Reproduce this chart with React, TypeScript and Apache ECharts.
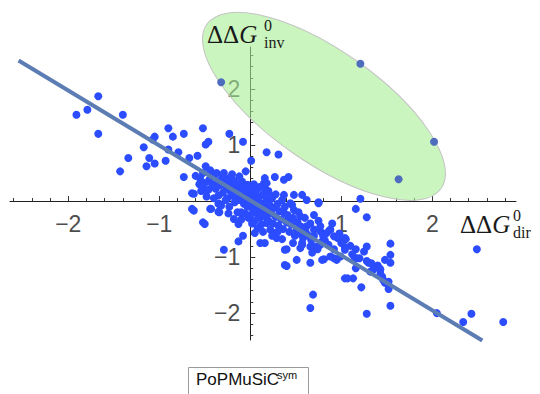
import React, { useEffect, useRef } from "react";
import * as echarts from "echarts";

// ΔΔG_dir (x) vs ΔΔG_inv (y) for mutations outside the highlighted region
const mutationPoints: [number, number][] = [
  [-1.91, 1.54], [-1.79, 1.63], [-1.67, 1.87], [-1.67, 1.2], [-1.4, 1.54], [-1.43, 0.53],
  [-1.34, 0.77], [-1.17, 0.96], [-1.11, 0.77], [-1.14, 0.62], [-1.05, 0.67], [-1.05, 1.15],
  [-1.07, 1.1], [-0.93, 0.72], [-0.9, 1.3], [-0.85, 1.15], [-0.9, 0.92], [-0.79, 0.87],
  [-0.73, 1.2], [-0.73, 0.43], [-0.67, 0.77], [-0.58, 0.81], [-0.52, 1.3], [-0.49, 1.01],
  [-0.46, 1.06], [-0.64, 0.14], [-0.64, -0.14], [-0.49, 0.62], [-0.6, 0.45], [-0.55, 0.4],
  [-0.52, 0.5], [-0.44, -0.14], [-0.35, -0.05], [-0.35, -0.19], [-0.23, 1.2], [-0.08, 1.06],
  [0.01, 0.72], [-0.05, 0.53], [0.18, 0.87], [0.31, 0.83], [-0.03, 0.29], [-0.51, 0.2],
  [0.27, 0.43], [0.37, 0.38], [0.42, 0.43], [0.15, 0.32], [0.16, 0.23], [0.37, 0.11],
  [0.48, 0.11], [0.57, 0.11], [0.62, 0.02], [0.75, -0.04], [0.44, -0.04], [1.21, 0.04],
  [0.16, 0.41], [0.09, 0.23], [0.18, 0.32],
  [1.16, -0.14], [1.28, -0.29], [2.49, -0.86], [1.54, -0.76], [1.54, -0.96], [1.54, -1.1],
  [1.48, -1.05], [1.16, -0.86], [1.25, -0.9], [1.04, -0.66], [1.04, -0.82], [1.04, -0.87],
  [0.92, -0.86], [0.96, -0.66], [0.87, -0.52], [0.81, -1.04], [0.66, -1.1], [0.51, -1.05],
  [0.4, -0.86], [0.4, -1.16], [0.69, -1.67], [0.66, -1.91], [1.04, -1.38], [1.13, -1.38],
  [1.22, -1.54], [1.28, -2.01], [1.54, -1.87], [1.48, -1.46], [2.05, -2.0], [2.34, -2.16],
  [2.43, -2.01], [2.78, -2.16], [1.17, -1.02], [1.3, -1.1], [1.36, -1.18], [1.43, -1.22],
  [1.4, -1.15], [1.45, -1.35], [1.46, -1.41], [1.32, -1.26], [0.95, -1.05], [0.92, -1.02],
  [0.77, -0.78], [0.79, -0.72], [0.55, -0.84], [0.57, -0.78], [0.66, -0.81], [1.05, -0.68],
  [1.28, -0.81], [1.15, -1.02], [1.16, -1.2], [1.28, -1.07], [1.33, -1.11], [1.35, -1.23],
  [1.42, -1.2], [1.43, -1.3], [1.52, -1.44], [1.52, -1.57], [0.57, -0.75], [0.71, -0.81],
  [0.79, -1.05], [0.88, -0.99], [0.99, -0.99], [1.07, -1.38], [0.46, -0.07], [0.55, -0.27],
  [0.62, -0.45], [0.7, -0.51], [0.77, -0.54], [0.84, -0.57], [0.88, -0.51], [0.92, -0.63],
  [0.51, -0.51], [0.59, -0.54], [0.75, -0.35], [0.77, -0.45], [0.42, -0.33], [0.37, -0.21],
  [0.48, -0.16], [0.75, -0.02], [0.15, -0.21], [0.18, -0.39], [0.22, -0.51], [0.27, -0.57],
  [0.29, -0.66], [0.16, -0.75], [0.38, -0.87], [0.38, -1.14], [0.05, -0.57], [0.11, -0.75],
  [-0.52, -0.38], [-0.43, -0.14], [-0.34, -0.2], [-0.34, -0.05], [-0.13, -0.41], [-0.1, -0.33],
  [-0.08, -0.62], [-0.13, -0.72], [-0.29, -0.87], [-0.62, -0.17], [-0.5, -0.41], [-0.62, 0.13],
  [-0.45, 0.38], [-0.42, 0.3], [-0.4, 0.45], [-0.38, 0.22], [-0.36, 0.35], [-0.33, 0.28],
  [-0.31, 0.42], [-0.3, 0.15], [-0.28, 0.33], [-0.26, 0.24], [-0.25, 0.05], [-0.24, 0.4],
  [-0.22, 0.18], [-0.21, 0.3], [-0.2, 0.1], [-0.19, 0.25], [-0.18, 0.36], [-0.16, 0.05],
  [-0.15, 0.2], [-0.14, 0.14], [-0.13, 0.3], [-0.12, 0.02], [-0.11, 0.22], [-0.1, 0.1],
  [-0.09, 0.35], [-0.08, 0.18], [-0.07, -0.05], [-0.06, 0.06], [-0.05, 0.26], [-0.04, 0.12],
  [-0.03, -0.1], [-0.02, 0.02], [-0.01, 0.16], [0.0, 0.08], [0.01, -0.05], [0.02, 0.2],
  [0.03, -0.15], [0.04, 0.04], [0.05, 0.12], [0.06, -0.08], [0.07, -0.22], [0.08, 0.02],
  [0.09, -0.12], [0.1, 0.08], [0.11, -0.3], [0.12, -0.04], [0.13, -0.18], [0.14, 0.12],
  [0.15, -0.1], [0.17, -0.28], [0.18, 0.02], [0.19, -0.16], [0.2, -0.35], [0.21, -0.06],
  [0.23, -0.22], [0.24, 0.05], [0.25, -0.4], [0.26, -0.12], [0.28, -0.28], [0.3, -0.05],
  [0.31, -0.44], [0.32, -0.18], [0.34, -0.33], [0.35, 0.02], [0.36, -0.5], [0.38, -0.1],
  [0.4, -0.38], [0.41, -0.25], [0.43, -0.55], [0.45, -0.42], [0.47, -0.3], [0.49, -0.62],
  [0.52, -0.38], [0.54, -0.58], [0.56, -0.46], [0.58, -0.66], [0.61, -0.55], [0.64, -0.62],
  [0.67, -0.7], [0.7, -0.62], [-0.48, 0.08], [-0.46, 0.2], [-0.44, 0.55], [-0.4, 0.05],
  [-0.37, 0.5], [-0.35, 0.1], [-0.32, -0.08], [-0.29, 0.5], [-0.27, 0.02], [-0.23, -0.1],
  [-0.2, 0.48], [-0.17, -0.02], [-0.14, -0.2], [-0.12, 0.44], [-0.06, -0.22], [-0.02, -0.3],
  [0.02, -0.4], [0.04, 0.3], [0.08, -0.48], [0.1, 0.25], [0.14, -0.55], [0.06, 0.18],
  [-0.56, 0.3], [-0.54, 0.18], [-0.5, 0.32], [-0.24, -0.22], [-0.18, -0.32], [-0.1, -0.2],
  [0.0, -0.25], [0.05, -0.35], [0.12, -0.42], [0.22, 0.1], [0.28, 0.12], [0.2, 0.18],
  [0.3, -0.55], [0.24, -0.62], [0.47, -0.75], [0.35, -0.68], [0.6, -0.3], [0.66, -0.4],
  [0.53, -0.2], [0.7, -0.25], [0.8, -0.62], [0.82, -0.7], [0.86, -0.78], [0.74, -0.86],
  [0.68, -0.92], [0.9, -0.4], [0.98, -0.58], [1.0, -0.75], [1.1, -0.8], [1.12, -0.95],
  [1.2, -1.02],
];

// mutations inside the highlighted (green) region
const outlierPoints: [number, number][] = [
  [-0.32, 2.12], [1.21, 2.45], [2.02, 1.06], [1.63, 0.39],
];

// fitted line end points
const fitLine: [number, number][] = [[-2.546, 2.51], [2.55, -2.49]];

// highlighted region centre (data units)
const regionCenter: [number, number][] = [[0.81, 1.69]];

const xTickLabels = [-2, -1, 1, 2];
const yTickLabels = [-2, -1, 1, 2];
const xMinorTicks = [-2.6, -2.4, -2.2, -1.8, -1.6, -1.4, -1.2, -0.8, -0.6, -0.4, -0.2, 0.2, 0.4, 0.6, 0.8, 1.2, 1.4, 1.6, 1.8, 2.2, 2.4, 2.6, 2.8];
const yMinorTicks = [-2.4, -2.2, -1.8, -1.6, -1.4, -1.2, -0.8, -0.6, -0.4, -0.2, 0.2, 0.4, 0.6, 0.8, 1.2, 1.4, 1.6, 1.8, 2.2, 2.4, 2.6];

const SANS = '"Liberation Sans", Arial, Helvetica, sans-serif';
const SERIF = '"Liberation Serif", "Times New Roman", Times, serif';

const fmt = (v: number) => (v < 0 ? "\u2212" + Math.abs(v) : String(v));

export default function App() {
  const ref = useRef<HTMLDivElement>(null);
  useEffect(() => {
    document.body.style.margin = "0";
    const chart = echarts.init(ref.current!, null, { renderer: "svg" });
    const X_MIN = -2.64, X_MAX = 2.92, Y_MIN = -2.48, Y_MAX = 2.75;
    const G_LEFT = 10, G_TOP = 47, G_W = 506, G_H = 293;
    // shift axes from the grid edges onto the origin
    const xAxisOffset = -(G_H * (0 - Y_MIN)) / (Y_MAX - Y_MIN);
    const yAxisOffset = -(G_W * (0 - X_MIN)) / (X_MAX - X_MIN);
    const tickStyle = { color: "#333", width: 1 };
    const baseX = { type: "value", min: X_MIN, max: X_MAX, position: "bottom", offset: xAxisOffset, splitLine: { show: false } };
    const baseY = { type: "value", min: Y_MIN, max: Y_MAX, position: "left", offset: yAxisOffset, splitLine: { show: false } };
    chart.setOption({
      animation: false,
      backgroundColor: "#ffffff",
      grid: { left: G_LEFT, top: G_TOP, width: G_W, height: G_H, containLabel: false, outerBoundsMode: "none" },
      xAxis: [
        {
          ...baseX,
          axisLine: { show: true, onZero: false, lineStyle: { color: "#222", width: 1 } },
          axisTick: { show: true, inside: true, length: 5, customValues: xTickLabels, lineStyle: tickStyle },
          axisLabel: { customValues: xTickLabels, formatter: fmt, fontSize: 23, color: "#4d4d4d", margin: 11, fontFamily: SANS },
        },
        {
          ...baseX,
          axisLine: { show: false, onZero: false },
          axisTick: { show: true, inside: true, length: 3, customValues: xMinorTicks, lineStyle: tickStyle },
          axisLabel: { show: false },
        },
      ],
      yAxis: [
        {
          ...baseY,
          axisLine: { show: true, onZero: false, lineStyle: { color: "#222", width: 1 } },
          axisTick: { show: true, inside: true, length: 5, customValues: yTickLabels, lineStyle: tickStyle },
          axisLabel: { customValues: yTickLabels, formatter: fmt, fontSize: 23, color: "#4d4d4d", margin: 10, fontFamily: SANS },
        },
        {
          ...baseY,
          axisLine: { show: false, onZero: false },
          axisTick: { show: true, inside: true, length: 3, customValues: yMinorTicks, lineStyle: tickStyle },
          axisLabel: { show: false },
        },
      ],
      series: [
        {
          type: "scatter", data: mutationPoints, symbolSize: 8, z: 2,
          itemStyle: { color: "#2b4cff", opacity: 1 },
        },
        {
          type: "line", data: fitLine, symbol: "none", z: 3,
          lineStyle: { color: "#5b7db4", width: 4 },
        },
        {
          type: "custom", coordinateSystem: "cartesian2d", data: regionCenter, z: 5, clip: false,
          renderItem: (params: any, api: any) => {
            const p = api.coord([api.value(0), api.value(1)]);
            return {
              type: "ellipse",
              x: p[0], y: p[1],
              rotation: (-35 * Math.PI) / 180,
              shape: { cx: 0, cy: 0, rx: 143, ry: 56 },
              style: { fill: "rgba(167,238,147,0.6)", stroke: "#c4c4c4", lineWidth: 1 },
            };
          },
        },
        {
          type: "scatter", data: outlierPoints, symbolSize: 8, z: 6,
          itemStyle: { color: "#4d6cbd", opacity: 1 },
        },
      ],
      graphic: [
        {
          type: "text", left: 207, top: 22, z: 10,
          style: {
            text: "{d|ΔΔ}{g|G}",
            rich: {
              d: { fontFamily: SERIF, fontSize: 25, fill: "#1a1a1a" },
              g: { fontFamily: SERIF, fontSize: 25, fontStyle: "italic", fill: "#1a1a1a" },
            },
          },
        },
        { type: "text", left: 264, top: 17, z: 10, style: { text: "0", font: `16px ${SERIF}`, fill: "#1a1a1a" } },
        { type: "text", left: 264, top: 34, z: 10, style: { text: "inv", font: `16px ${SERIF}`, fill: "#1a1a1a" } },
        {
          type: "text", left: 460, top: 212, z: 10,
          style: {
            text: "{d|ΔΔ}{g|G}",
            rich: {
              d: { fontFamily: SERIF, fontSize: 25, fill: "#1a1a1a" },
              g: { fontFamily: SERIF, fontSize: 25, fontStyle: "italic", fill: "#1a1a1a" },
            },
          },
        },
        { type: "text", left: 513, top: 207, z: 10, style: { text: "0", font: `16px ${SERIF}`, fill: "#1a1a1a" } },
        { type: "text", left: 513, top: 224, z: 10, style: { text: "dir", font: `16px ${SERIF}`, fill: "#1a1a1a" } },
        {
          type: "rect", left: 188, top: 367, z: 10,
          shape: { width: 120, height: 27 },
          style: { fill: "#ffffff", stroke: "#9a9a9a", lineWidth: 1 },
        },
        { type: "text", left: 196, top: 371, z: 11, style: { text: "PoPMuSiC", font: `17px ${SANS}`, fill: "#111" } },
        { type: "text", left: 277, top: 369, z: 11, style: { text: "sym", font: `11px ${SANS}`, fill: "#111" } },
      ],
    });
    return () => chart.dispose();
  }, []);
  return <div ref={ref} style={{ width: 540, height: 394 }} />;
}
